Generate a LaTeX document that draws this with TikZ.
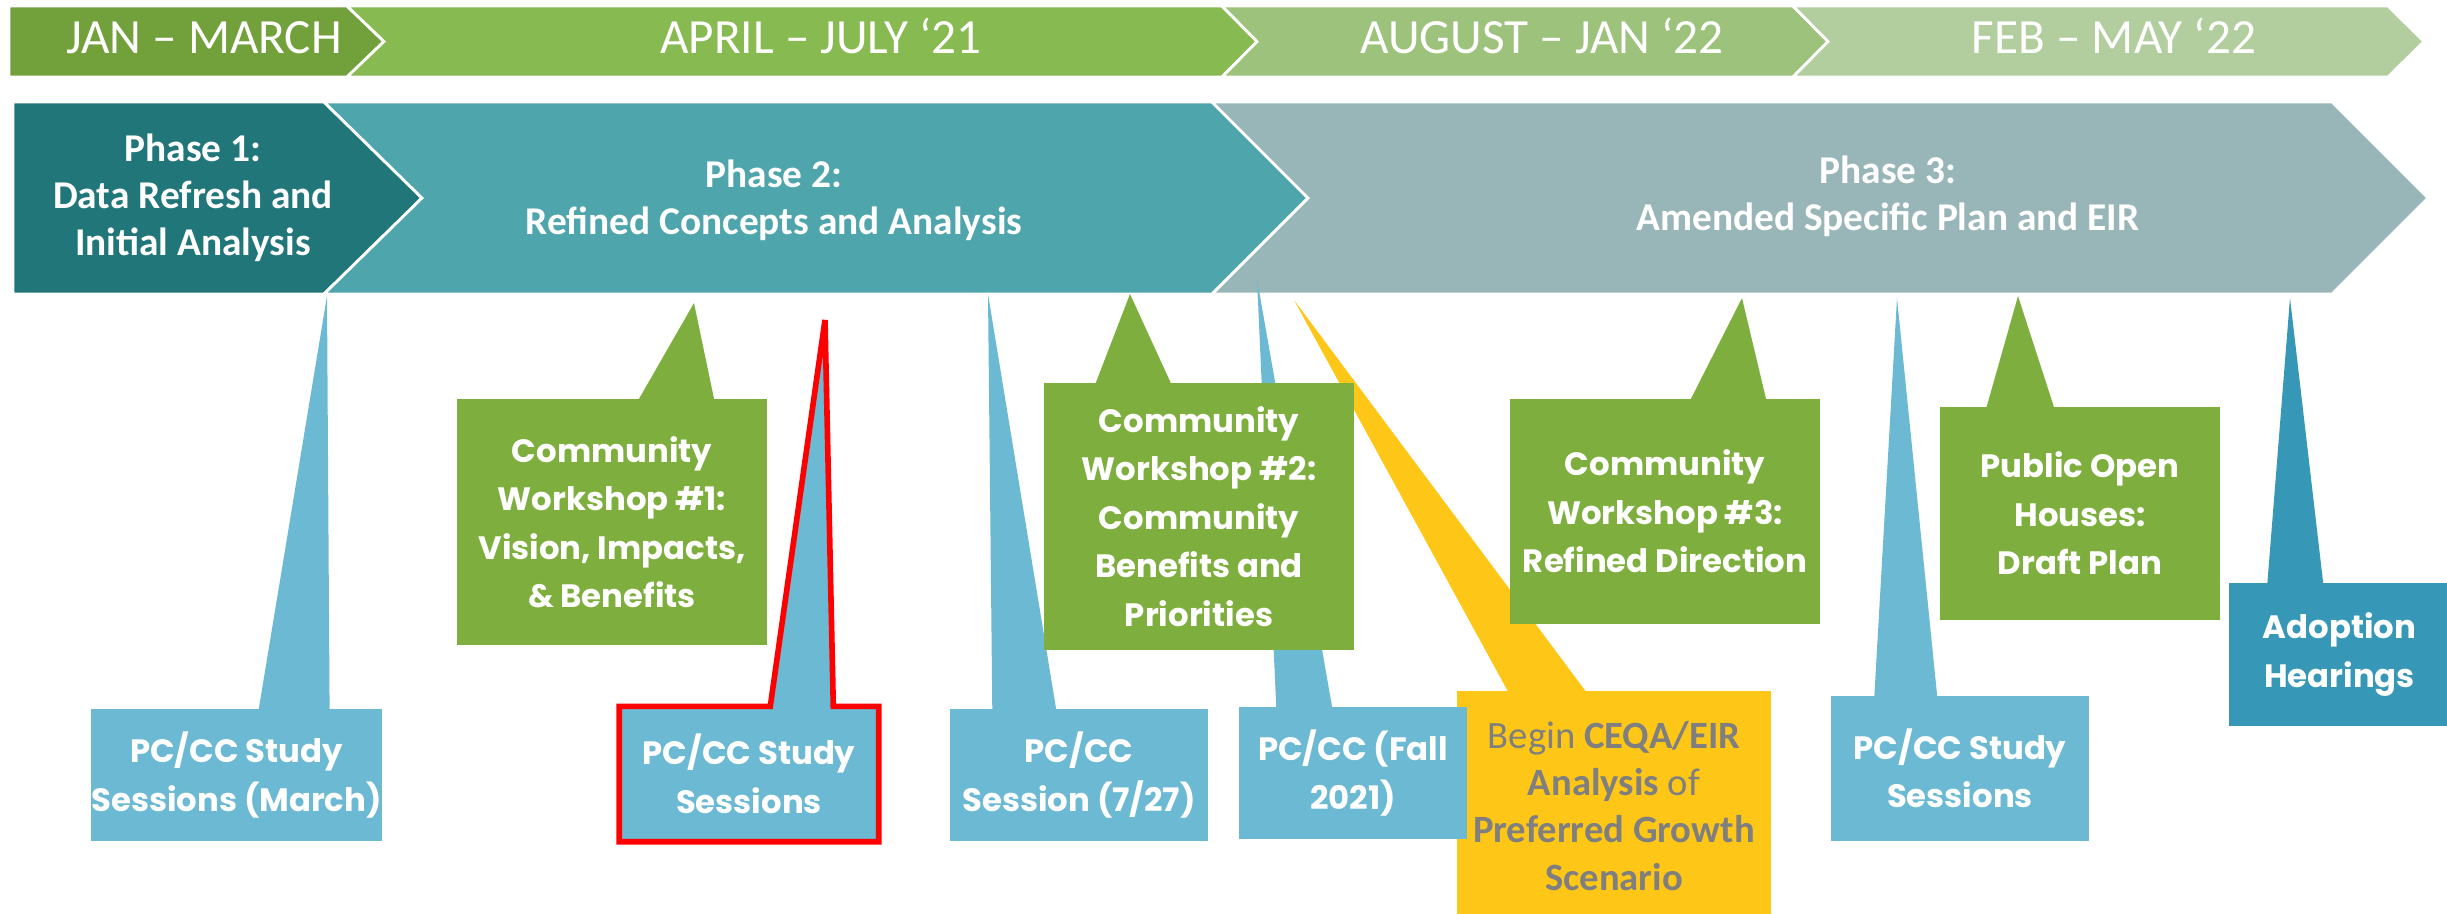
\documentclass[tikz,border=0pt]{standalone}
\usepackage{fontspec}
\setmainfont{Carlito}
\newfontfamily\callfont{Poppins}

\definecolor{jangreen}{RGB}{114,160,58}
\definecolor{aprgreen}{RGB}{135,186,80}
\definecolor{auggreen}{RGB}{156,194,123}
\definecolor{febgreen}{RGB}{178,205,158}
\definecolor{phaseone}{RGB}{33,118,122}
\definecolor{phasetwo}{RGB}{79,165,172}
\definecolor{phasethree}{RGB}{152,182,183}
\definecolor{wsgreen}{RGB}{126,175,62}
\definecolor{pcblue}{RGB}{107,185,211}
\definecolor{adoptblue}{RGB}{55,151,183}
\definecolor{ceqayellow}{RGB}{254,199,24}
\definecolor{ceqagrey}{RGB}{127,127,127}

\begin{document}
\begin{tikzpicture}[x=0.1mm,y=-0.1mm,
  seg/.style={fill=#1,draw=white,line width=0.8pt},
  monthtext/.style={text=white,anchor=base,font=\fontsize{14}{16}\selectfont},
  phasetext/.style={text=white,align=center,font=\bfseries\fontsize{11.2}{13.4}\selectfont},
  callbox/.style={fill=#1,inner sep=0pt,align=center,text=white,
    font=\callfont\bfseries\fontsize{9.2}{13.8}\selectfont}]
\useasboundingbox (0,0) rectangle (2447,913);

% month bar
\draw[seg=jangreen] (9,6) -- (347,6) -- (384,41.5) -- (347,77) -- (9,77) -- cycle;
\draw[seg=aprgreen] (347,6) -- (1222,6) -- (1257,41.5) -- (1222,77) -- (347,77) -- (384,41.5) -- cycle;
\draw[seg=auggreen] (1222,6) -- (1793,6) -- (1828,41.5) -- (1793,77) -- (1222,77) -- (1257,41.5) -- cycle;
\draw[seg=febgreen] (1793,6) -- (2388,6) -- (2424,41.5) -- (2388,77) -- (1793,77) -- (1828,41.5) -- cycle;
\node[monthtext] (jan) at (204,53) {JAN – MARCH};
\node[monthtext] (apr) at (821,53) {APRIL – JULY ‘21};
\node[monthtext] (aug) at (1542,53) {AUGUST – JAN ‘22};
\node[monthtext] (feb) at (2114,53) {FEB – MAY ‘22};

% phase bar
\draw[seg=phaseone] (13,102) -- (324,102) -- (422,198) -- (324,294) -- (13,294) -- cycle;
\draw[seg=phasetwo] (324,102) -- (1212,102) -- (1308,198) -- (1212,294) -- (324,294) -- (422,198) -- cycle;
\draw[seg=phasethree] (1212,102) -- (2332,102) -- (2428,198) -- (2332,294) -- (1212,294) -- (1308,198) -- cycle;
\node[phasetext] (ph1) at (193,198) {Phase 1:\\Data Refresh and\\Initial Analysis};
\node[phasetext] (ph2) at (774,200) {Phase 2:\\Refined Concepts and Analysis};
\node[phasetext] (ph3) at (1888,196) {Phase 3:\\Amended Specific Plan and EIR};

% tips of the callouts
\coordinate (pcA tip) at (327,296);
\coordinate (ws1 tip) at (694,303);
\coordinate (pcB tip) at (825,320);
\coordinate (pcC tip) at (988,294);
\coordinate (ws2 tip) at (1130,294);
\coordinate (pcD tip) at (1257,279);
\coordinate (ceqa tip) at (1294,300);
\coordinate (ws3 tip) at (1742,298);
\coordinate (pcE tip) at (1897,298);
\coordinate (poh tip) at (2018,296);
\coordinate (adopt tip) at (2290,298);

% PC/CC sessions
\node[callbox=pcblue,minimum width=28.7mm,minimum height=13.2mm] (pcA) at (236.5,775) {PC/CC Study\\Sessions (March)};
\fill[pcblue] ([xshift=16.8mm,yshift=-.5pt]pcA.north west) -- (pcA tip) -- ([xshift=23.9mm,yshift=-.5pt]pcA.north west) -- cycle;

\node[callbox=pcblue,minimum width=25.8mm,minimum height=13.4mm] (pcB) at (749,774) {PC/CC Study\\Sessions};
\fill[pcblue] ([xshift=15.1mm,yshift=-.5pt]pcB.north west) -- (pcB tip) -- ([xshift=21.4mm,yshift=-.5pt]pcB.north west) -- cycle;
\draw[red,line width=1.6pt] ([xshift=15.1mm]pcB.north west) -- (pcB tip) -- ([xshift=21.4mm]pcB.north west)
  -- (pcB.north east) -- (pcB.south east) -- (pcB.south west) -- (pcB.north west) -- cycle;

\node[callbox=pcblue,minimum width=25.8mm,minimum height=13.2mm] (pcC) at (1079,775) {PC/CC\\Session (7/27)};
\fill[pcblue] ([xshift=4.3mm,yshift=-.5pt]pcC.north west) -- (pcC tip) -- ([xshift=10.7mm,yshift=-.5pt]pcC.north west) -- cycle;

% CEQA start
\node[callbox=ceqayellow,minimum width=31.4mm,minimum height=23mm,text=ceqagrey,
  font=\fontsize{11}{13.4}\selectfont] (ceqa) at (1614,806) {Begin \textbf{CEQA/EIR}\\\textbf{Analysis} of\\\textbf{Preferred Growth}\\\textbf{Scenario}};
\fill[ceqayellow] ([xshift=5.2mm,yshift=-.5pt]ceqa.north west) -- (ceqa tip) -- ([xshift=13mm,yshift=-.5pt]ceqa.north west) -- cycle;

\node[callbox=pcblue,minimum width=22.8mm,minimum height=13.2mm] (pcD) at (1353,773) {PC/CC (Fall\\2021)};
\fill[pcblue] ([xshift=3.8mm,yshift=-.5pt]pcD.north west) -- (pcD tip) -- ([xshift=9.4mm,yshift=-.5pt]pcD.north west) -- cycle;

\node[callbox=pcblue,minimum width=25.8mm,minimum height=14.5mm] (pcE) at (1960,768.5) {PC/CC Study\\Sessions};
\fill[pcblue] ([xshift=4.4mm,yshift=-.5pt]pcE.north west) -- (pcE tip) -- ([xshift=10.7mm,yshift=-.5pt]pcE.north west) -- cycle;

% workshops and open houses
\node[callbox=wsgreen,minimum width=31mm,minimum height=24.6mm] (ws1) at (612,522) {Community\\Workshop \#1:\\Vision, Impacts,\\\& Benefits};
\fill[wsgreen] ([xshift=18.2mm,yshift=-.5pt]ws1.north west) -- (ws1 tip) -- ([xshift=25.8mm,yshift=-.5pt]ws1.north west) -- cycle;

\node[callbox=wsgreen,minimum width=31mm,minimum height=26.7mm] (ws2) at (1199,516.5) {Community\\Workshop \#2:\\Community\\Benefits and\\Priorities};
\fill[wsgreen] ([xshift=5.2mm,yshift=-.5pt]ws2.north west) -- (ws2 tip) -- ([xshift=12.8mm,yshift=-.5pt]ws2.north west) -- cycle;

\node[callbox=wsgreen,minimum width=31mm,minimum height=22.5mm] (ws3) at (1665,511.5) {Community\\Workshop \#3:\\Refined Direction};
\fill[wsgreen] ([xshift=18.1mm,yshift=-.5pt]ws3.north west) -- (ws3 tip) -- ([xshift=25.7mm,yshift=-.5pt]ws3.north west) -- cycle;

\node[callbox=wsgreen,minimum width=28mm,minimum height=21.3mm] (poh) at (2080,513.5) {Public Open\\Houses:\\Draft Plan};
\fill[wsgreen] ([xshift=4.7mm,yshift=-.5pt]poh.north west) -- (poh tip) -- ([xshift=11.5mm,yshift=-.5pt]poh.north west) -- cycle;

% adoption
\node[callbox=adoptblue,minimum width=22.1mm,minimum height=14.3mm] (adopt) at (2339.5,654.5) {Adoption\\Hearings};
\fill[adoptblue] ([xshift=3.9mm,yshift=-.5pt]adopt.north west) -- (adopt tip) -- ([xshift=9.5mm,yshift=-.5pt]adopt.north west) -- cycle;
\end{tikzpicture}
\end{document}
